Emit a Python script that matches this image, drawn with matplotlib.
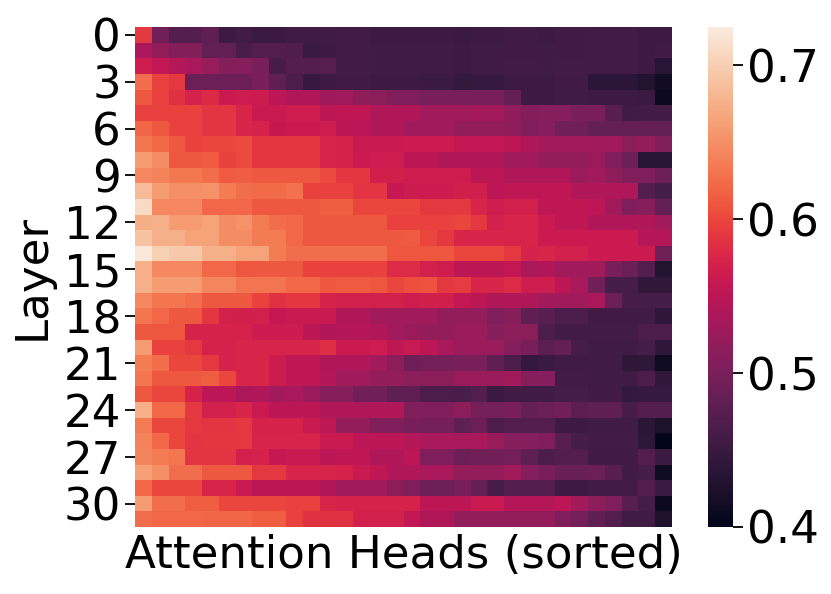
import numpy as np
import matplotlib
matplotlib.use('Agg')
import matplotlib.pyplot as plt
import seaborn as sns

# one row per layer (in thousandths)
layer_scores = [
    [590,495,472,472,480,452,458,450,450,455,455,455,458,458,452,452,452,452,452,450,452,452,455,455,453,457,457,458,458,458,452,452],
    [535,520,507,507,482,482,463,470,470,468,450,453,458,458,455,455,455,455,455,452,455,455,457,457,455,457,457,458,458,458,452,457],
    [565,555,545,535,522,508,510,500,462,470,470,475,458,458,455,455,455,455,455,452,455,455,458,458,455,458,458,458,458,458,452,435],
    [625,598,590,490,490,490,490,500,480,465,447,452,457,457,452,452,452,450,450,445,448,448,452,452,452,457,457,437,437,437,430,415],
    [612,595,585,572,578,562,565,563,550,540,540,527,530,517,515,505,505,500,500,500,500,500,485,452,452,455,455,453,453,453,450,408],
    [595,598,598,598,587,587,575,560,560,565,565,552,553,553,540,540,540,530,530,530,532,532,517,508,510,510,500,500,475,455,458,458],
    [620,612,598,598,587,587,575,572,558,562,562,565,550,550,540,540,530,530,530,520,520,520,518,505,510,495,495,485,485,485,483,483],
    [632,623,612,597,600,600,603,588,588,588,588,575,572,560,560,560,563,563,563,555,555,555,552,540,532,532,532,530,530,515,520,505],
    [660,648,612,612,613,598,603,588,588,588,588,573,572,562,565,565,550,552,540,540,540,540,530,530,520,520,520,525,505,490,435,435],
    [645,640,633,633,625,613,615,612,612,612,612,603,588,588,568,568,565,565,565,565,552,552,542,542,542,542,525,530,517,505,505,490],
    [685,660,650,650,652,635,625,624,624,628,597,598,597,587,587,557,563,563,563,568,568,550,553,553,553,553,540,540,540,540,470,460],
    [710,645,645,645,622,622,622,612,612,612,612,615,615,600,600,600,600,590,590,590,575,565,570,570,553,553,553,550,530,505,510,485],
    [673,675,660,660,665,648,652,635,625,622,612,612,612,612,612,597,598,598,598,600,590,570,575,575,562,553,553,540,540,540,540,530],
    [690,675,675,665,665,648,648,635,635,622,612,612,612,612,612,612,613,600,590,575,575,575,573,573,562,562,562,562,562,562,545,545],
    [722,700,695,695,675,675,665,665,635,625,625,625,625,625,625,610,610,610,610,600,600,600,590,572,575,570,570,562,562,562,562,495],
    [675,645,645,645,622,622,610,612,612,612,598,598,597,597,597,580,580,570,565,552,552,552,555,538,540,530,530,530,500,490,470,430],
    [675,660,660,660,643,643,630,630,630,622,622,610,613,613,610,600,605,607,590,592,575,575,580,565,565,550,535,495,460,460,442,442],
    [645,632,632,625,612,612,612,597,585,588,588,572,570,570,570,570,565,568,568,555,552,540,540,540,530,530,530,535,490,460,460,460],
    [632,622,612,612,588,570,568,570,558,560,560,560,540,540,530,530,530,530,520,520,520,505,510,480,475,465,465,457,457,457,455,440],
    [612,610,610,572,572,572,572,563,563,563,552,540,545,545,540,530,525,520,520,525,525,510,515,515,465,458,458,458,458,458,465,465],
    [660,598,598,590,572,572,575,575,575,575,575,582,562,562,565,553,560,550,535,525,525,525,510,500,478,485,460,455,455,455,460,440],
    [635,625,600,600,590,572,575,575,563,553,553,540,540,540,530,515,490,497,497,500,500,480,465,445,450,455,455,455,455,440,440,412],
    [632,612,612,612,615,600,575,575,563,553,553,545,530,530,520,520,515,515,515,525,525,525,530,510,510,458,458,455,455,455,465,442],
    [612,600,600,572,550,550,537,540,530,535,525,510,510,495,495,480,480,465,465,463,470,450,455,455,455,460,460,457,457,445,447,447],
    [675,622,622,590,570,570,575,560,550,552,552,540,540,540,540,540,505,505,505,515,497,497,500,485,490,495,478,480,480,462,470,470],
    [635,600,600,590,587,587,590,572,572,572,560,553,520,520,505,505,500,497,497,480,490,465,470,470,470,453,453,455,455,455,438,425],
    [640,622,600,587,588,588,590,575,575,575,575,560,560,550,550,550,545,535,535,535,535,525,510,510,505,475,460,458,458,458,440,400],
    [642,635,632,587,587,587,570,572,558,560,560,550,553,553,540,540,550,505,505,490,495,495,497,480,465,470,470,457,457,457,470,450],
    [662,650,625,625,612,612,612,590,590,575,575,575,572,560,553,540,540,535,535,520,520,520,530,510,500,487,487,490,475,455,460,412],
    [622,600,600,600,573,573,560,552,552,552,552,540,530,530,530,515,505,490,490,500,485,462,470,470,470,452,452,458,458,458,470,450],
    [660,625,625,615,615,600,600,600,600,598,598,575,572,572,572,572,572,552,552,552,560,560,545,545,545,550,530,515,505,475,460,410],
    [625,622,622,622,620,620,620,615,615,597,585,585,585,570,570,570,555,540,540,520,520,520,520,520,520,505,497,480,470,455,455,425],
]
layer_ticks = [0, 3, 6, 9, 12, 15, 18, 21, 24, 27, 30]
cbar_ticks = [0.4, 0.5, 0.6, 0.7]

scores = np.array(layer_scores) / 1000

W, H = 831, 594
fig = plt.figure(figsize=(W / 100, H / 100), dpi=100)
ax = fig.add_axes([135 / W, 1 - 527 / H, 537 / W, 500 / H])
cax = fig.add_axes([708 / W, 1 - 527 / H, 25 / W, 500 / H])

sns.heatmap(scores, ax=ax, cbar_ax=cax, cmap='rocket', vmin=0.4, vmax=0.725,
            xticklabels=False, yticklabels=False,
            cbar_kws={'ticks': cbar_ticks})

ax.set_yticks(np.array(layer_ticks) + 0.5)
ax.set_yticklabels(layer_ticks, rotation=0)
ax.tick_params(axis='y', labelsize=32.5, length=7, width=1.3, pad=3)
ax.set_xlabel('Attention Heads (sorted)', fontsize=32.5, labelpad=5)
ax.set_ylabel('Layer', fontsize=32.5, labelpad=7)

cax.set_yticklabels(['0.4', '0.5', '0.6', '0.7'])
cax.tick_params(labelsize=32.5, length=7, width=1.3, pad=3)
cax.collections[0].set_edgecolor('face')

fig.savefig('out.png', dpi=100)
